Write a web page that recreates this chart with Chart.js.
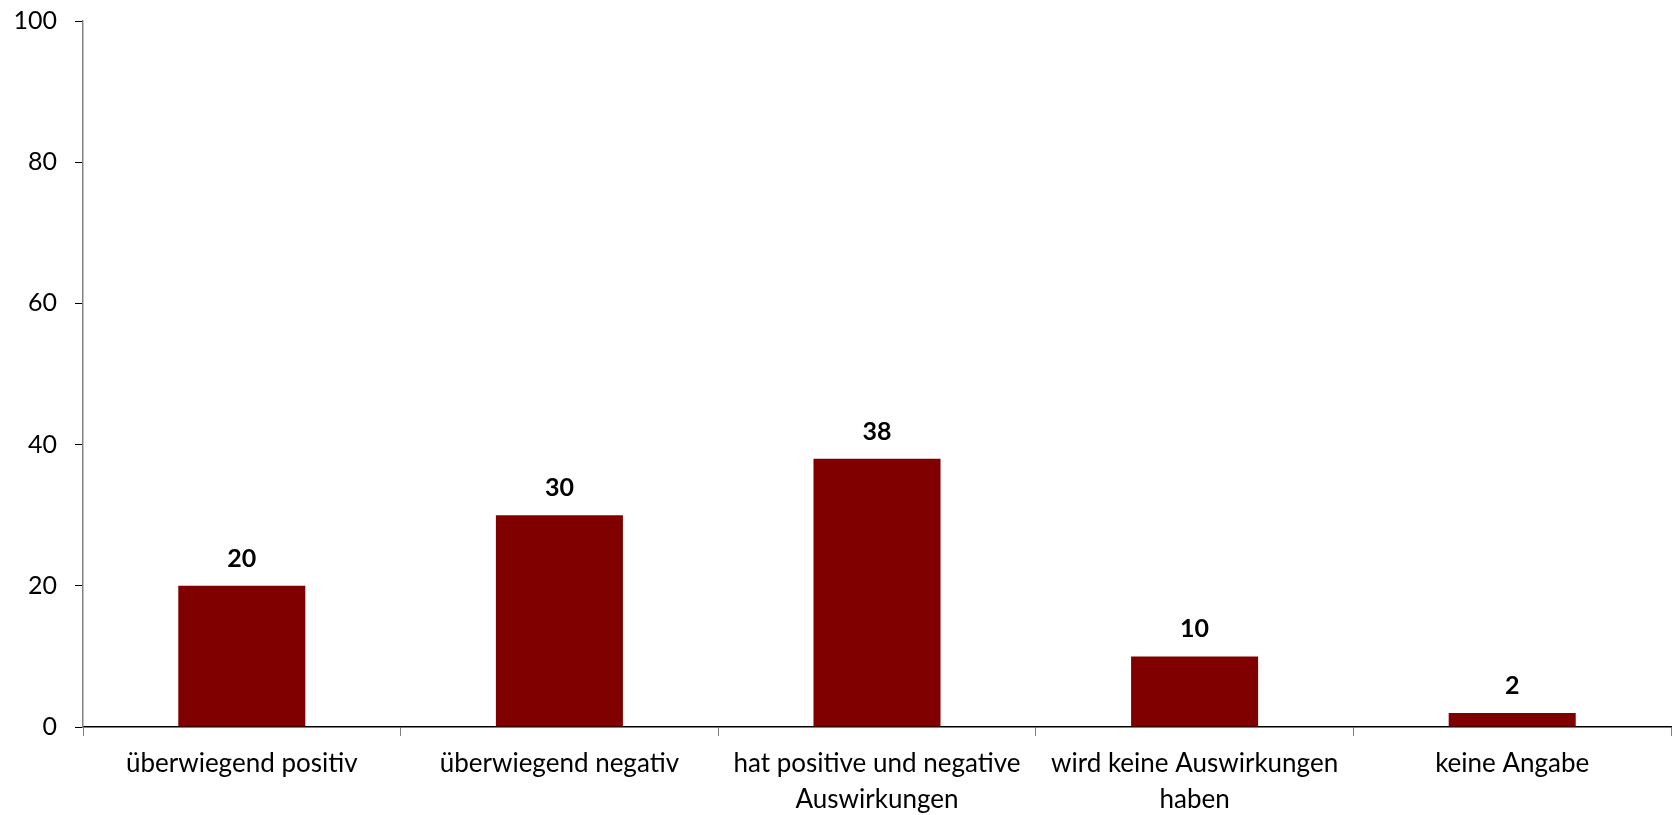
<!DOCTYPE html>
<html>
<head>
<meta charset="utf-8">
<script src="https://cdn.jsdelivr.net/npm/chart.js@4/dist/chart.umd.min.js"></script>
<style>
  html, body { margin: 0; padding: 0; background: #fff; }
  #wrap { width: 1673px; height: 815px; position: relative; }
</style>
</head>
<body>
<div id="wrap"><canvas id="c" width="1673" height="815"></canvas></div>
<script>
const categories = [
  "überwiegend positiv",
  "überwiegend negativ",
  ["hat positive und negative", "Auswirkungen"],
  ["wird keine Auswirkungen", "haben"],
  "keine Angabe"
];
const values = [20, 30, 38, 10, 2];
const yTicks = [0, 20, 40, 60, 80, 100];

const valueLabels = {
  id: 'valueLabels',
  afterDatasetsDraw(chart) {
    const ctx = chart.ctx;
    const meta = chart.getDatasetMeta(0);
    ctx.save();
    ctx.font = 'bold 25px Lato';
    ctx.fillStyle = '#000';
    ctx.textAlign = 'center';
    ctx.textBaseline = 'alphabetic';
    meta.data.forEach((bar, i) => {
      ctx.fillText(String(values[i]), bar.x, bar.y - 19);
    });
    ctx.restore();
  }
};

new Chart(document.getElementById('c'), {
  type: 'bar',
  data: {
    labels: categories,
    datasets: [{
      data: values,
      backgroundColor: '#800000',
      borderWidth: 0,
      barPercentage: 1,
      categoryPercentage: 0.4
    }]
  },
  options: {
    responsive: false,
    animation: false,
    layout: { padding: { top: 21, right: 2, left: 0, bottom: 0 } },
    plugins: { legend: { display: false }, tooltip: { enabled: false } },
    scales: {
      x: {
        offset: true,
        grid: {
          offset: true,
          drawOnChartArea: false,
          drawTicks: true,
          tickLength: 9,
          tickColor: '#808080',
          tickWidth: 1
        },
        border: { color: '#000', width: 1.5 },
        ticks: {
          color: '#000',
          font: { family: 'Lato', size: 26, lineHeight: 1.4 },
          padding: 9,
          maxRotation: 0,
          autoSkip: false
        },
        afterFit(scale) { scale.height = 88; scale.paddingLeft = 0; scale.paddingRight = 0; }
      },
      y: {
        min: 0,
        max: 100,
        afterBuildTicks(scale) { scale.ticks = yTicks.map(v => ({ value: v })); },
        grid: {
          drawOnChartArea: false,
          drawTicks: true,
          tickLength: 8,
          tickColor: '#000',
          tickWidth: 1
        },
        border: { color: '#808080', width: 1.5 },
        ticks: {
          color: '#000',
          font: { family: 'Lato', size: 25 },
          padding: 18
        },
        afterFit(scale) { scale.width = 83; scale.paddingTop = 0; scale.paddingBottom = 0; }
      }
    }
  },
  plugins: [valueLabels]
});
</script>
</body>
</html>
